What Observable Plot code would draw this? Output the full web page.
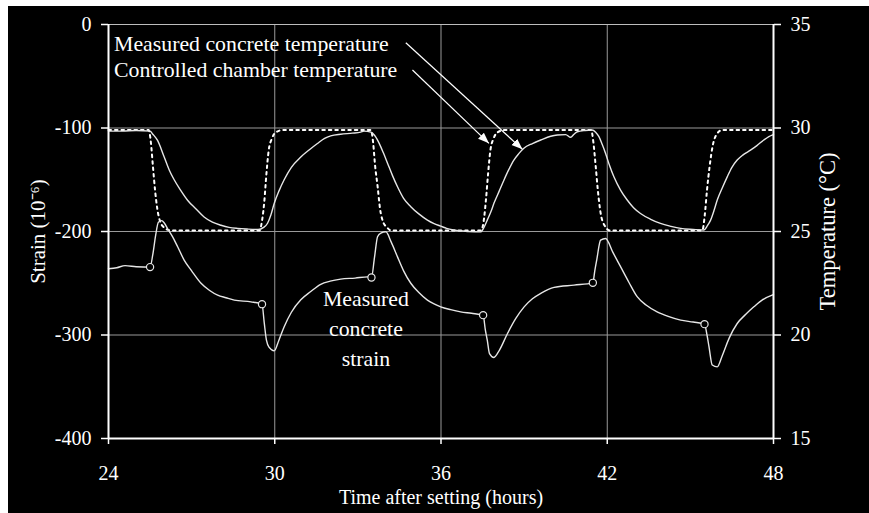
<!DOCTYPE html>
<html>
<head>
<meta charset="utf-8">
<script src="https://cdn.jsdelivr.net/npm/d3@7"></script>
<script src="https://cdn.jsdelivr.net/npm/@observablehq/plot@0.6"></script>
<style>
  html, body { margin: 0; padding: 0; background: #fff; }
  #chart { position: absolute; left: 8px; top: 6px; width: 861px; height: 507px; background: #000; }
</style>
</head>
<body>
<div id="chart"></div>
<script>
// Axis ticks
const timeTicks = [24, 30, 36, 42, 48];
const strainTicks = [-400, -300, -200, -100, 0];
const tempTicks = [15, 20, 25, 30, 35];

// Controlled chamber temperature: [hours after setting, °C]
const chamberTemp = [
  [24.0, 29.9], [25.45, 29.9], [25.53, 29.3], [25.6, 28.2], [25.68, 27.0], [25.76, 26.1], [25.86, 25.5],
  [26.0, 25.2], [26.25, 25.05], [29.45, 25.05], [29.55, 25.6], [29.62, 26.4], [29.7, 27.8], [29.78, 28.9],
  [29.9, 29.5], [30.05, 29.8], [30.3, 29.9], [33.47, 29.9], [33.55, 29.3], [33.62, 28.2], [33.71, 27.2],
  [33.8, 26.1], [33.9, 25.5], [34.05, 25.2], [34.2, 25.05], [37.45, 25.05], [37.55, 25.6], [37.62, 26.5],
  [37.7, 27.8], [37.78, 28.9], [37.9, 29.5], [38.05, 29.8], [38.3, 29.9], [41.42, 29.9], [41.5, 29.3],
  [41.58, 28.2], [41.66, 27.0], [41.76, 25.9], [41.9, 25.3], [42.1, 25.05], [45.43, 25.05], [45.52, 25.8],
  [45.6, 27.0], [45.7, 28.2], [45.8, 29.1], [45.95, 29.7], [46.15, 29.9], [48.0, 29.9]
];

// Measured concrete temperature: [hours after setting, °C]
const concreteTemp = [
  [24.0, 29.85], [24.5, 29.85], [25.0, 29.88], [25.5, 29.85], [25.6, 29.7], [25.77, 29.4], [26.01, 28.6],
  [26.2, 27.95], [26.37, 27.5], [26.6, 27.0], [26.86, 26.5], [27.15, 26.1], [27.45, 25.7], [27.75, 25.45],
  [28.06, 25.3], [28.35, 25.2], [28.66, 25.15], [29.0, 25.12], [29.4, 25.1], [29.6, 25.2], [29.74, 25.4],
  [29.86, 25.8], [29.98, 26.35], [30.15, 26.95], [30.34, 27.5], [30.6, 28.1], [30.94, 28.6], [31.25, 28.95],
  [31.54, 29.25], [31.8, 29.5], [32.02, 29.62], [32.38, 29.7], [32.8, 29.75], [33.1, 29.8], [33.22, 29.85],
  [33.47, 29.8], [33.6, 29.65], [33.77, 29.26], [33.92, 28.8], [34.07, 28.3], [34.25, 27.7], [34.43, 27.16],
  [34.65, 26.6], [34.91, 26.2], [35.2, 25.85], [35.51, 25.55], [35.75, 25.38], [35.99, 25.26], [36.2, 25.15],
  [36.47, 25.07], [37.0, 25.0], [37.43, 24.98], [37.55, 25.2], [37.67, 25.55], [37.8, 25.95], [37.91, 26.36],
  [38.1, 26.95], [38.27, 27.48], [38.45, 28.0], [38.63, 28.45], [38.8, 28.75], [38.99, 29.02], [39.3, 29.25],
  [39.6, 29.42], [39.96, 29.6], [40.2, 29.66], [40.5, 29.68], [40.68, 29.55], [40.8, 29.7], [40.92, 29.82],
  [41.2, 29.88], [41.45, 29.9], [41.58, 29.8], [41.7, 29.58], [41.82, 29.2], [41.94, 28.77], [42.08, 28.2],
  [42.24, 27.64], [42.48, 27.0], [42.72, 26.52], [42.95, 26.15], [43.2, 25.87], [43.55, 25.6], [43.92, 25.39],
  [44.3, 25.25], [44.65, 25.15], [45.1, 25.1], [45.49, 25.07], [45.6, 25.25], [45.73, 25.55], [45.85, 26.0],
  [45.97, 26.52], [46.15, 27.1], [46.33, 27.64], [46.5, 28.1], [46.69, 28.45], [46.9, 28.7], [47.17, 28.93],
  [47.4, 29.15], [47.65, 29.42], [47.95, 29.66], [48.0, 29.68]
];

// Measured concrete strain: [hours after setting, strain ×10⁻⁶]
const strain = [
  [24.0, -236], [24.3, -235], [24.6, -233], [25.0, -234], [25.5, -234.4], [25.6, -222], [25.7, -204],
  [25.8, -191], [25.92, -189.5], [26.02, -192], [26.15, -198], [26.31, -205], [26.5, -215], [26.73, -227.6],
  [27.0, -238], [27.34, -250], [27.65, -257], [27.94, -261.5], [28.24, -264], [28.54, -266.3], [29.14, -268],
  [29.54, -270.2], [29.62, -288], [29.7, -305], [29.8, -312], [29.98, -315.3], [30.15, -305], [30.34, -292],
  [30.6, -278], [30.94, -266], [31.3, -258], [31.66, -251], [32.0, -248], [32.38, -246], [32.9, -245],
  [33.35, -243.8], [33.49, -244.4], [33.6, -225], [33.71, -205], [33.83, -201.5], [34.01, -200.3], [34.2, -210],
  [34.43, -224.5], [34.65, -238], [34.91, -250], [35.2, -259], [35.51, -266.3], [35.75, -270], [35.99, -272.8],
  [36.35, -275.5], [36.71, -277.6], [37.1, -279], [37.52, -280.8], [37.6, -295], [37.67, -305], [37.75, -318],
  [37.91, -321.7], [38.1, -315], [38.4, -298.5], [38.7, -284], [39.0, -272.8], [39.3, -265], [39.6, -259.8],
  [40.08, -254], [40.8, -251.8], [41.48, -249.6], [41.55, -238], [41.62, -227.6], [41.76, -208.3], [41.94, -206.7],
  [42.2, -220], [42.48, -234], [42.78, -249], [43.08, -263], [43.4, -271], [43.8, -277.6], [44.2, -282],
  [44.65, -285.6], [45.1, -287.5], [45.51, -289.5], [45.6, -300], [45.67, -311], [45.79, -329], [45.97, -330.8],
  [46.15, -320], [46.4, -303], [46.69, -288.9], [47.0, -280], [47.29, -272.8], [47.6, -266], [47.95, -261.5],
  [48.0, -261]
];

// Strain readings where the chamber temperature switches
const switchPoints = [
  [25.5, -234.4], [29.54, -270.2], [33.49, -244.4], [37.52, -280.8], [41.48, -249.6], [45.51, -289.5]
];

// Annotations (hours, strain axis units)
const legendNotes = [
  {x: 24.2, y: -19.1, text: "Measured concrete temperature"},
  {x: 24.2, y: -44.0, text: "Controlled chamber temperature"}
];
const strainNote = [{x: 33.29, y: -291.4, text: "Measured\nconcrete\nstrain"}];
const pointers = [
  {x1: 34.73, y1: -17.6, x2: 38.94, y2: -120.6},
  {x1: 34.97, y1: -44.0, x2: 37.73, y2: -114.8}
];

// Temperature (°C) shares the strain axis: 35 °C ↔ 0, 15 °C ↔ -400
const tempToY = t => (t - 35) * 20;
const yToTemp = y => y / 20 + 35;

const font = "'Liberation Serif', 'Times New Roman', serif";

const chart = Plot.plot({
  width: 861,
  height: 507,
  marginLeft: 100,
  marginRight: 96,
  marginTop: 18,
  marginBottom: 75,
  style: {background: "#000", color: "#fff", fontFamily: font, fontSize: "20px"},
  x: {domain: [24, 48], label: null},
  y: {domain: [-400, 0], label: null},
  marks: [
    Plot.gridX(timeTicks, {stroke: "#9a9a9a", strokeOpacity: 1, strokeWidth: 1}),
    Plot.gridY(strainTicks, {stroke: "#9a9a9a", strokeOpacity: 1, strokeWidth: 1}),
    Plot.ruleY([0], {stroke: "#bdbdbd", strokeWidth: 1.2}),
    Plot.line(chamberTemp, {
      x: d => d[0], y: d => tempToY(d[1]),
      stroke: "#fff", strokeWidth: 2, strokeDasharray: "2.5,4", curve: "monotone-x"
    }),
    Plot.line(concreteTemp, {
      x: d => d[0], y: d => tempToY(d[1]),
      stroke: "#e6e6e6", strokeWidth: 1.4, curve: "monotone-x"
    }),
    Plot.line(strain, {
      x: d => d[0], y: d => d[1],
      stroke: "#e6e6e6", strokeWidth: 1.4, curve: "monotone-x"
    }),
    Plot.dot(switchPoints, {
      x: d => d[0], y: d => d[1], r: 3.6, fill: "#000", stroke: "#e6e6e6", strokeWidth: 1.2
    }),
    Plot.ruleX([24, 48], {stroke: "#fff", strokeWidth: 2}),
    Plot.ruleY([-400], {stroke: "#fff", strokeWidth: 2}),
    Plot.axisY(strainTicks, {
      anchor: "left", tickSize: 7, tickPadding: 10, label: null,
      tickFormat: d => String(d), stroke: "#fff", strokeWidth: 1.5
    }),
    Plot.axisY(tempTicks.map(tempToY), {
      anchor: "right", tickSize: 7, tickPadding: 10, label: null,
      tickFormat: d => String(yToTemp(d)), stroke: "#fff", strokeWidth: 1.5
    }),
    Plot.axisX(timeTicks, {
      anchor: "bottom", tickSize: 6, tickPadding: 21, label: null,
      tickFormat: d => String(d), stroke: "#fff", strokeWidth: 1.5
    }),
    Plot.text(legendNotes, {
      x: "x", y: "y", text: "text", textAnchor: "start", fill: "#fff", fontSize: 21.8
    }),
    Plot.text(strainNote, {
      x: "x", y: "y", text: "text", textAnchor: "middle", lineHeight: 1.38, fill: "#fff", fontSize: 21.8
    }),
    Plot.link(pointers, {
      x1: "x1", y1: "y1", x2: "x2", y2: "y2", stroke: "#fff", strokeWidth: 1.2, markerEnd: "arrow"
    }),
    // Axis titles
    Plot.text(["Strain (10⁻⁶)"], {
      frameAnchor: "left", dx: -70, rotate: -90, textAnchor: "middle", lineAnchor: "middle",
      fill: "#fff", fontSize: 21
    }),
    Plot.text(["Temperature (°C)"], {
      frameAnchor: "right", dx: 54, rotate: -90, textAnchor: "middle", lineAnchor: "middle",
      fill: "#fff", fontSize: 22.5
    }),
    Plot.text(["Time after setting (hours)"], {
      frameAnchor: "bottom", dy: 59, textAnchor: "middle", lineAnchor: "middle",
      fill: "#fff", fontSize: 20
    })
  ]
});

// Solid triangular arrowheads on the pointer lines
d3.select(chart).selectAll("marker")
  .attr("viewBox", "-11 -5 11 10")
  .attr("markerUnits", "userSpaceOnUse")
  .attr("markerWidth", 11)
  .attr("markerHeight", 10)
  .attr("fill", "#fff")
  .attr("stroke", "none")
  .select("path")
  .attr("d", "M-11,-4.2L0,0L-11,4.2Z");

document.getElementById("chart").appendChild(chart);
</script>
</body>
</html>
